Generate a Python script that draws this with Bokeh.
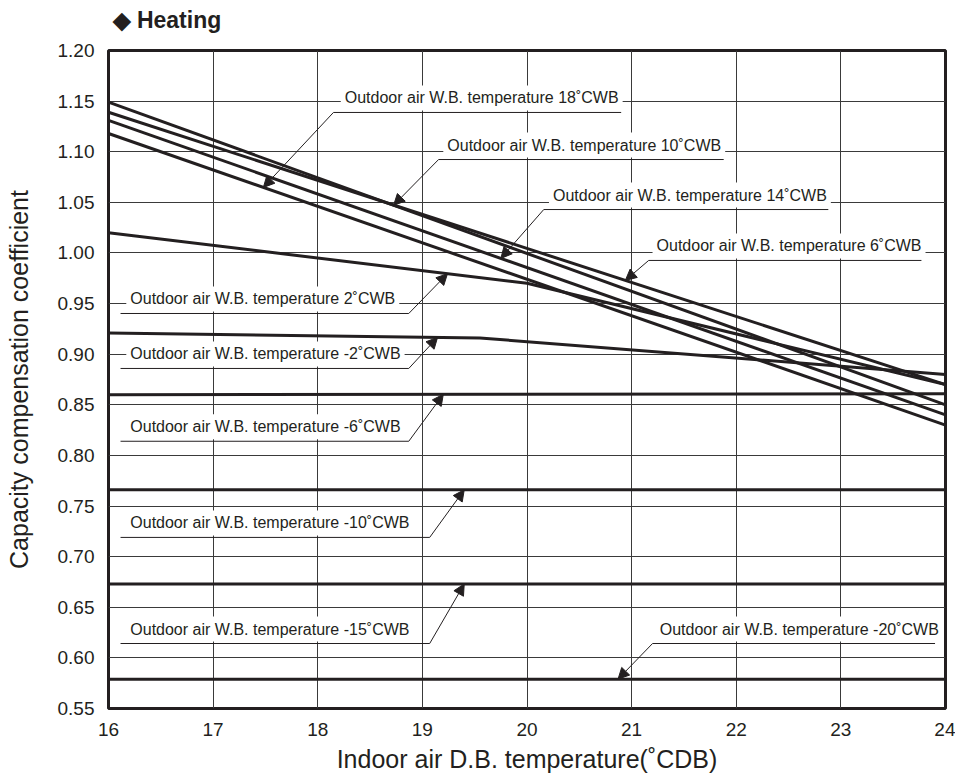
import numpy as np
from bokeh.plotting import figure
from bokeh.models import Range1d, FixedTicker, NumeralTickFormatter, Label, Arrow, NormalHead, Title
from bokeh.embed import file_html
from bokeh.resources import INLINE

# ---- data ----
x_ticks = [16, 17, 18, 19, 20, 21, 22, 23, 24]
y_ticks = [0.55, 0.60, 0.65, 0.70, 0.75, 0.80, 0.85, 0.90, 0.95, 1.00, 1.05, 1.10, 1.15, 1.20]

x_ends = [16, 24]
cwb_18 = [1.118, 0.830]
cwb_14 = [1.131, 0.840]
cwb_10 = [1.149, 0.850]
cwb_6 = [1.139, 0.870]
x_cwb_2 = [16, 20, 24]
cwb_2 = [1.020, 0.970, 0.870]
x_cwb_m2 = [16, 19.55, 24]
cwb_m2 = [0.921, 0.916, 0.880]
cwb_m6 = [0.860, 0.861]
cwb_m10 = [0.766, 0.766]
cwb_m15 = [0.673, 0.673]
cwb_m20 = [0.579, 0.579]

series = [
    ("18", x_ends, cwb_18),
    ("14", x_ends, cwb_14),
    ("10", x_ends, cwb_10),
    ("6", x_ends, cwb_6),
    ("2", x_cwb_2, cwb_2),
    ("-2", x_cwb_m2, cwb_m2),
    ("-6", x_ends, cwb_m6),
    ("-10", x_ends, cwb_m10),
    ("-15", x_ends, cwb_m15),
    ("-20", x_ends, cwb_m20),
]

# label layout: key -> (text_x, underline_y, underline_x0, underline_x1, leader_from_x, tip_x)
layout = {
    "18": (18.22, 1.1388, 18.15, 20.90, 18.15, 17.48),
    "10": (19.20, 1.0923, 19.155, 21.88, 19.155, 18.725),
    "14": (20.21, 1.0429, 20.16, 22.88, 20.16, 19.75),
    "6": (21.20, 0.9926, 21.163, 23.77, 21.163, 20.94),
    "2": (16.17, 0.9402, 16.115, 18.87, 18.87, 19.24),
    "-2": (16.17, 0.8859, 16.115, 18.87, 18.87, 19.145),
    "-6": (16.17, 0.8140, 16.115, 18.87, 18.87, 19.20),
    "-10": (16.17, 0.7190, 16.115, 19.07, 19.07, 19.40),
    "-15": (16.17, 0.6142, 16.115, 19.07, 19.07, 19.40),
    "-20": (21.23, 0.6142, 21.20, 23.90, 21.20, 20.87),
}

FONT = "Liberation Sans"
INK = "#231f20"

p = figure(width=955, height=775, output_backend="svg", toolbar_location=None, title=None,
           x_range=Range1d(16, 24), y_range=Range1d(0.55, 1.20),
           min_border_left=108, min_border_top=50, min_border_right=10, min_border_bottom=67)

# spacer nearest to the frame, then the visible heading above it
p.add_layout(Title(text=" ", text_font_size="2px", standoff=10), "above")
p.add_layout(Title(text="\u25c6 Heating", text_font=FONT, text_font_size="23px",
                   text_font_style="bold", text_color=INK, align="left",
                   offset=4, standoff=8), "above")

p.outline_line_color = INK
p.outline_line_width = 3
p.background_fill_color = "white"
p.border_fill_color = "white"

for ax in (p.xaxis[0], p.yaxis[0]):
    ax.axis_line_color = None
    ax.major_tick_line_color = None
    ax.minor_tick_line_color = None
    ax.major_label_text_font = FONT
    ax.major_label_text_font_size = "19px"
    ax.major_label_text_color = INK
    ax.axis_label_text_font = FONT
    ax.axis_label_text_font_size = "25px"
    ax.axis_label_text_font_style = "normal"
    ax.axis_label_text_color = INK

p.xaxis.ticker = FixedTicker(ticks=x_ticks)
p.yaxis.ticker = FixedTicker(ticks=y_ticks)
p.yaxis.formatter = NumeralTickFormatter(format="0.00")
p.xaxis.major_label_standoff = 8
p.yaxis.major_label_standoff = 8
p.xaxis.axis_label = "Indoor air D.B. temperature(\u02daCDB)"
p.yaxis.axis_label = "Capacity compensation coefficient"
p.xaxis.axis_label_standoff = 6
p.yaxis.axis_label_standoff = 22

p.xgrid.ticker = FixedTicker(ticks=x_ticks)
p.ygrid.ticker = FixedTicker(ticks=y_ticks)
for g in (p.xgrid[0], p.ygrid[0]):
    g.grid_line_color = "#3a3a3a"
    g.grid_line_width = 1

for key, xs, ys in series:
    p.line(xs, ys, line_color=INK, line_width=3)

for key, xs, ys in series:
    tx, uy, ux0, ux1, fx, tipx = layout[key]
    txt = "Outdoor air W.B. temperature %s\u02daCWB" % key
    p.add_layout(Label(x=tx, y=uy, text=txt, text_font=FONT, text_font_size="16px",
                       text_color=INK, text_baseline="bottom", y_offset=2,
                       background_fill_color="white", background_fill_alpha=1.0, padding=4))
    p.add_layout(Arrow(x_start=ux0, y_start=uy, x_end=ux1, y_end=uy, end=None,
                       line_color=INK, line_width=1))
    tipy = float(np.interp(tipx, xs, ys))
    p.add_layout(Arrow(x_start=fx, y_start=uy, x_end=tipx, y_end=tipy,
                       end=NormalHead(size=11, fill_color=INK, line_color=INK, line_width=1),
                       line_color=INK, line_width=1))

open("out.html", "w").write(file_html(p, INLINE))
